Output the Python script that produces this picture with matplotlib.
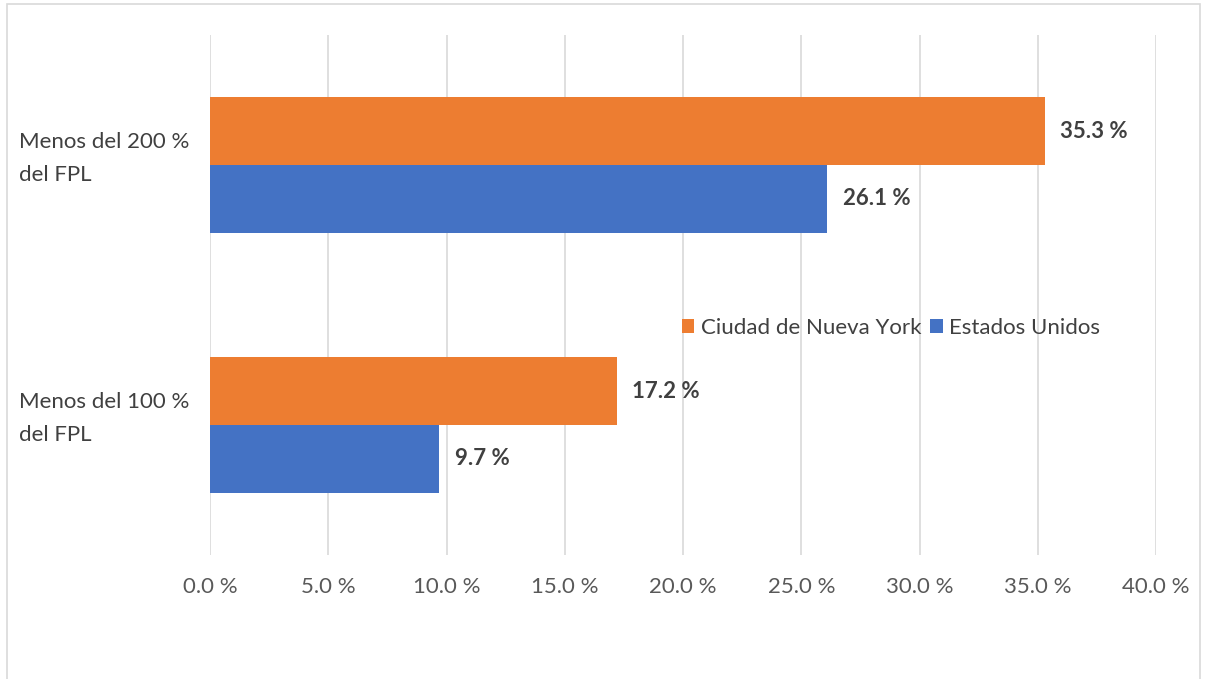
import matplotlib.pyplot as plt
from matplotlib.patches import Rectangle
from matplotlib.ticker import FuncFormatter
from matplotlib.transforms import ScaledTranslation

categories = ['Menos del 100 %\ndel FPL', 'Menos del 200 %\ndel FPL']
nyc = [17.2, 35.3]
usa = [9.7, 26.1]
series_names = ['Ciudad de Nueva York', 'Estados Unidos']

orange = '#ED7D31'
blue = '#4472C4'

plt.rcParams['font.family'] = ['Lato', 'DejaVu Sans']

fig = plt.figure(figsize=(12.09, 6.79), dpi=100)
ax = fig.add_axes([0.1737, 0.1826, 0.7825, 0.7659])

# chart border
fig.patches.append(Rectangle((7 / 1209, -0.05), 1193 / 1209, 1.05 - 4 / 679,
                             transform=fig.transFigure, fill=False,
                             edgecolor='#d9d9d9', linewidth=1.2))

h = 0.26
y = list(range(len(categories)))
b1 = ax.barh([v + h / 2 for v in y], nyc, height=h, color=orange, label=series_names[0])
b2 = ax.barh([v - h / 2 for v in y], usa, height=h, color=blue, label=series_names[1])

for bars in (b1, b2):
    for bar in bars:
        w = bar.get_width()
        ax.annotate(f'{w:.1f} %', (w, bar.get_y() + bar.get_height() / 2),
                    xytext=(11, 0), textcoords='offset points', va='center',
                    ha='left', fontsize=16, fontweight='bold', color='#404040')

ax.set_xlim(0, 40)
ax.set_ylim(-0.5, 1.5)
ax.set_xticks(range(0, 41, 5))
ax.xaxis.set_major_formatter(FuncFormatter(lambda v, p: f'{v:.1f} %'))
ax.set_yticks(y)
ax.set_yticklabels(categories, ha='left', linespacing=1.8)
ax.tick_params(axis='y', length=0, pad=137.5, labelsize=16, labelcolor='#404040')
ax.tick_params(axis='x', length=0, pad=16, labelsize=16, labelcolor='#595959')
# nudge category labels up a bit
for lab in ax.get_yticklabels():
    lab.set_transform(lab.get_transform() + ScaledTranslation(0, 0.15, fig.dpi_scale_trans))
ax.grid(axis='x', color='#d9d9d9', linewidth=1.2)
ax.set_axisbelow(True)
for s in ax.spines.values():
    s.set_visible(False)

ax.legend(loc='center', bbox_to_anchor=(0.72, 0.4365), ncol=2, frameon=False,
          fontsize=16, handlelength=0.55, handleheight=0.55, handletextpad=0.3,
          columnspacing=0.4, labelcolor='#404040')

fig.savefig('out.png', dpi=100)
